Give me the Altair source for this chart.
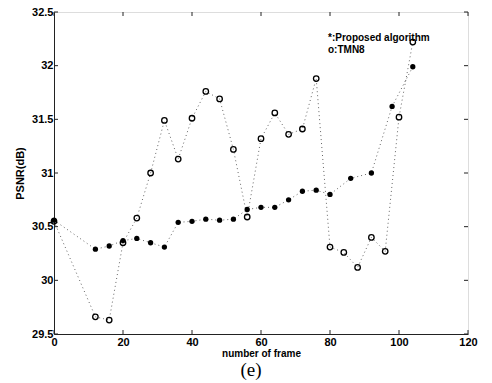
import altair as alt
import pandas as pd

frames_tmn = [0, 12, 16, 20, 24, 28, 32, 36, 40, 44, 48, 52, 56, 60, 64, 68, 72, 76, 80, 84, 88, 92, 96, 100, 104]
tmn8 = [30.55, 29.66, 29.63, 30.35, 30.58, 31.00, 31.49, 31.13, 31.51, 31.76, 31.69, 31.22, 30.59,
        31.32, 31.56, 31.36, 31.41, 31.88, 30.31, 30.26, 30.12, 30.40, 30.27, 31.52, 32.22]

frames_prop = [0, 12, 16, 20, 24, 28, 32, 36, 40, 44, 48, 52, 56, 60, 64, 68, 72, 76, 80, 86, 92, 98, 104]
proposed = [30.56, 30.29, 30.32, 30.37, 30.39, 30.35, 30.31, 30.54, 30.55, 30.57, 30.56, 30.57, 30.66,
            30.68, 30.68, 30.75, 30.83, 30.84, 30.80, 30.95, 31.00, 31.62, 31.99]

x_ticks = [0, 20, 40, 60, 80, 100, 120]
y_ticks = [29.5, 30, 30.5, 31, 31.5, 32, 32.5]
legend_labels = ["*:Proposed algorithm", "o:TMN8"]
caption = "(e)"

W, H = 414, 322

df_t = pd.DataFrame({"frame": frames_tmn, "psnr": tmn8})
df_p = pd.DataFrame({"frame": frames_prop, "psnr": proposed})
df_xt = pd.DataFrame({"frame": x_ticks})
df_yt = pd.DataFrame({"psnr": y_ticks})

xs = alt.Scale(domain=[0, 120], nice=False, zero=False)
ys = alt.Scale(domain=[29.5, 32.5], nice=False, zero=False)

FONT = "Liberation Sans"

x_axis = alt.Axis(values=x_ticks, title="number of frame", grid=False, ticks=False,
                  labelFont=FONT, labelFontWeight="bold", labelFontSize=11, labelColor="black",
                  labelPadding=2, titleFont=FONT, titleFontWeight="bold", titleFontSize=10,
                  titleColor="black", titlePadding=1, domainColor="#222", labelFlush=False,
                  labelExpr="'' + datum.value")
y_axis = alt.Axis(values=y_ticks, title="PSNR(dB)", grid=False, ticks=False,
                  labelFont=FONT, labelFontWeight="bold", labelFontSize=11, labelColor="black",
                  labelPadding=1, titleFont=FONT, titleFontWeight="bold", titleFontSize=11,
                  titleColor="black", titlePadding=6, domainColor="#222", labelFlush=False,
                  labelExpr="'' + datum.value")

X = alt.X("frame:Q", scale=xs, axis=x_axis, title="number of frame")
Y = alt.Y("psnr:Q", scale=ys, axis=y_axis, title="PSNR(dB)")

tline = alt.Chart(df_t).mark_line(strokeDash=[1, 3], color="#555", strokeWidth=0.9).encode(x=X, y=Y)
tpts = alt.Chart(df_t).mark_point(shape="circle", filled=False, size=30, color="black",
                                   strokeWidth=1.3, opacity=1).encode(x=X, y=Y)
pline = alt.Chart(df_p).mark_line(strokeDash=[1, 3], color="#555", strokeWidth=0.9).encode(x=X, y=Y)
ppts = alt.Chart(df_p).mark_point(shape="circle", filled=True, size=28, color="black",
                                   opacity=1).encode(x=X, y=Y)

tick_style = dict(color="#222", strokeWidth=1)
xb = alt.Chart(df_xt).mark_rule(**tick_style).encode(x=X, y=alt.value(H), y2=alt.value(H - 4))
xtop = alt.Chart(df_xt).mark_rule(**tick_style).encode(x=X, y=alt.value(0), y2=alt.value(4))
yl = alt.Chart(df_yt).mark_rule(**tick_style).encode(y=Y, x=alt.value(0), x2=alt.value(4))
yr = alt.Chart(df_yt).mark_rule(**tick_style).encode(y=Y, x=alt.value(W), x2=alt.value(W - 4))

leg_style = dict(align="left", baseline="middle", font=FONT, fontWeight="bold", fontSize=10,
                 color="black")
leg1 = alt.Chart(pd.DataFrame({"t": [legend_labels[0]]})).mark_text(**leg_style).encode(
    text="t:N", x=alt.value(274), y=alt.value(26))
leg2 = alt.Chart(pd.DataFrame({"t": [legend_labels[1]]})).mark_text(**leg_style).encode(
    text="t:N", x=alt.value(274), y=alt.value(38))
cap = alt.Chart(pd.DataFrame({"t": [caption]})).mark_text(
    align="center", baseline="middle", font="Liberation Serif", fontSize=19, color="black"
).encode(text="t:N", x=alt.value(W / 2 - 10), y=alt.value(358))

chart = alt.layer(tline, pline, tpts, ppts, xb, xtop, yl, yr, leg1, leg2, cap).properties(
    width=W, height=H,
    padding={"left": 54, "top": 12, "right": 24, "bottom": 49},
    autosize=alt.AutoSizeParams(type="none"),
).configure_view(stroke="#222", strokeWidth=1).configure(background="white")

chart.save("out.html", embed_options={"renderer": "svg", "actions": False})
